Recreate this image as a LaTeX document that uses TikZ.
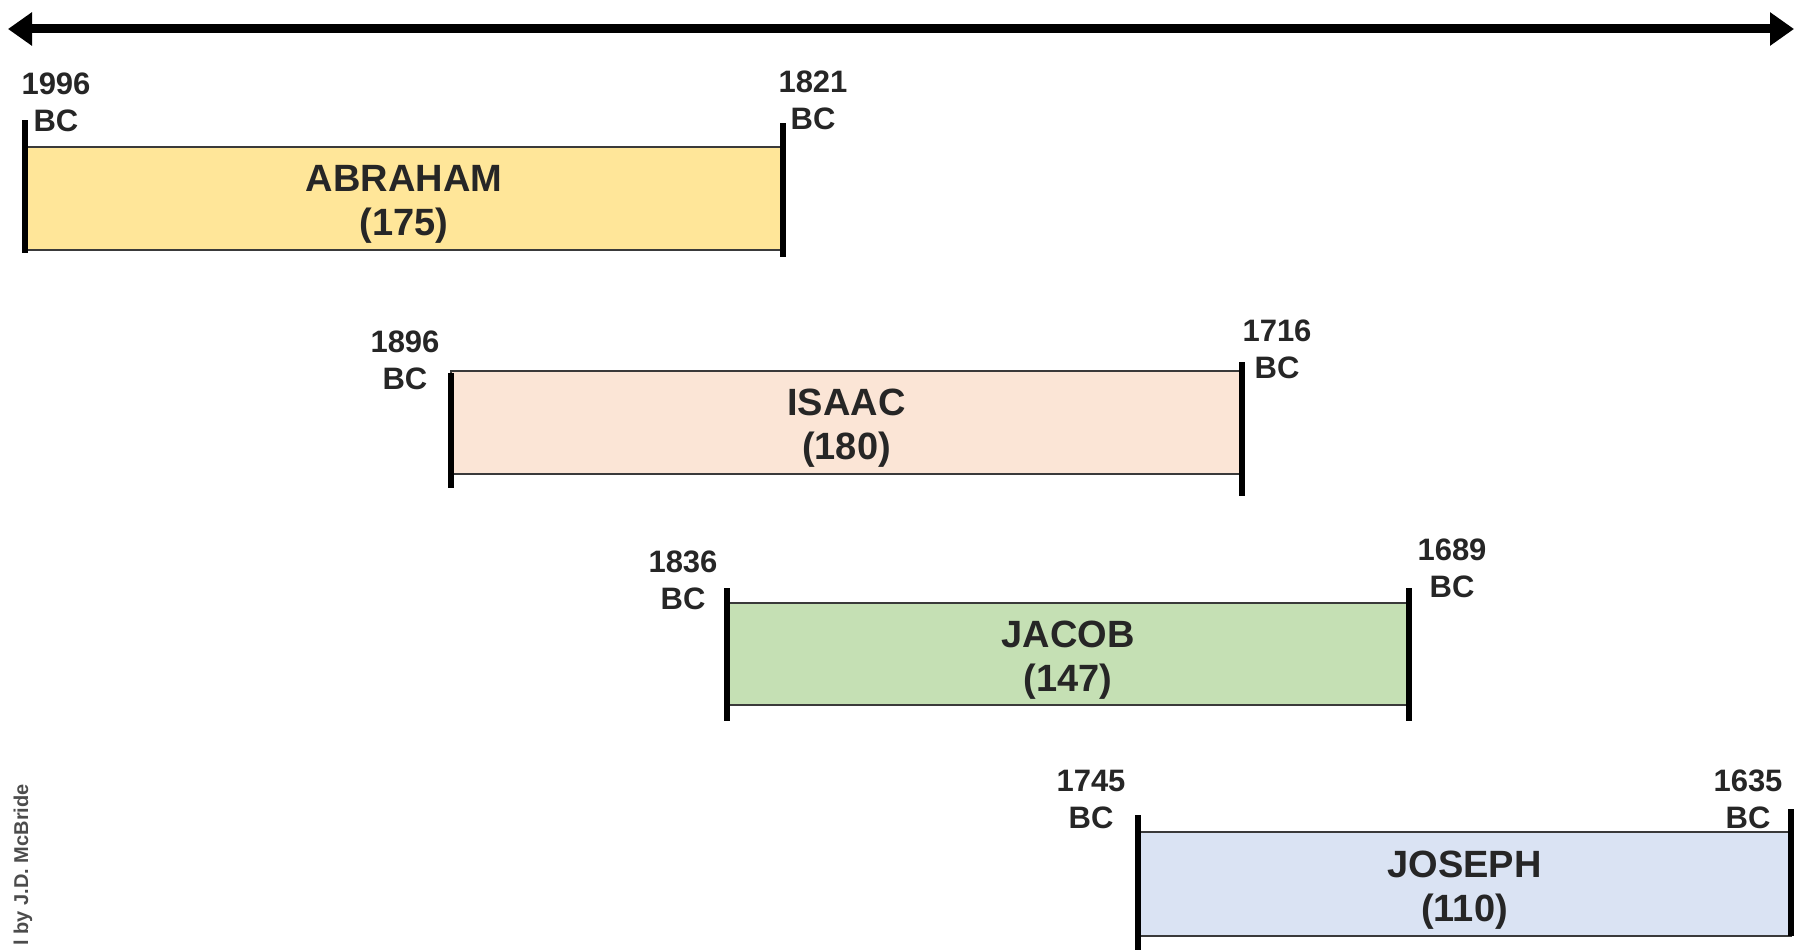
\documentclass[tikz,border=0pt]{standalone}
\usepackage{fontspec}
\setmainfont{Liberation Sans}
\usetikzlibrary{arrows.meta}
\definecolor{abrfill}{HTML}{FFE699}
\definecolor{isafill}{HTML}{FBE5D6}
\definecolor{jacfill}{HTML}{C5E0B4}
\definecolor{josfill}{HTML}{DAE3F3}
\definecolor{edgegray}{HTML}{3A3A3A}
\newcommand{\lowtxt}[1]{\raisebox{-6pt}[\height][\depth]{#1}}
\tikzset{
  lifebox/.style={draw=edgegray, line width=2.5pt, inner sep=0pt, outer sep=0pt,
    align=center, font=\fontsize{38}{44}\selectfont\bfseries, text=black!85},
  datelbl/.style={align=center, inner sep=0pt, font=\fontsize{31}{37}\selectfont\bfseries, text=black!85},
  endbar/.style={line width=6pt, black},
  timeline/.style={line width=9pt, black, {Triangle[width=32pt,length=24pt]}-{Triangle[width=32pt,length=24pt]}}
}
\begin{document}
\begin{tikzpicture}[x=1pt,y=-1pt]
\useasboundingbox (0,0) rectangle (1800,950);
% timeline arrow
\coordinate (tl) at (8,29);
\coordinate (tr) at (1794,29);
\draw[timeline] (tl) -- (tr);

% ABRAHAM
\node[lifebox, fill=abrfill, minimum width=758pt, minimum height=103pt] (abr) at (404,198.5) {\lowtxt{ABRAHAM}\\\lowtxt{(175)}};
\draw[endbar] ([yshift=27pt]abr.north west) -- ([yshift=-3pt]abr.south west);
\draw[endbar] ([yshift=24pt]abr.north east) -- ([yshift=-7pt]abr.south east);
\node[datelbl] (abrs) at (56,102) {1996\\BC};
\node[datelbl] (abre) at (813,100) {1821\\BC};

% ISAAC
\node[lifebox, fill=isafill, minimum width=791pt, minimum height=103pt] (isa) at (846.5,422.5) {\lowtxt{ISAAC}\\\lowtxt{(180)}};
\draw[endbar] ([yshift=-2pt]isa.north west) -- ([yshift=-14pt]isa.south west);
\draw[endbar] ([yshift=9pt]isa.north east) -- ([yshift=-22pt]isa.south east);
\node[datelbl] (isas) at (405,360) {1896\\BC};
\node[datelbl] (isae) at (1277,349) {1716\\BC};

% JACOB
\node[lifebox, fill=jacfill, minimum width=682pt, minimum height=102pt] (jac) at (1068,654) {\lowtxt{JACOB}\\\lowtxt{(147)}};
\draw[endbar] ([yshift=15pt]jac.north west) -- ([yshift=-16pt]jac.south west);
\draw[endbar] ([yshift=15pt]jac.north east) -- ([yshift=-16pt]jac.south east);
\node[datelbl] (jacs) at (683,580) {1836\\BC};
\node[datelbl] (jace) at (1452,568) {1689\\BC};

% JOSEPH
\node[lifebox, fill=josfill, minimum width=653pt, minimum height=104pt] (jos) at (1464.5,884) {\lowtxt{JOSEPH}\\\lowtxt{(110)}};
\draw[endbar] ([yshift=17pt]jos.north west) -- ([yshift=-16pt]jos.south west);
\draw[endbar] ([yshift=23pt]jos.north east) -- (jos.south east);
\node[datelbl] (joss) at (1091,799) {1745\\BC};
\node[datelbl] (jose) at (1748,799) {1635\\BC};

% credit
\node[rotate=90, anchor=east, inner sep=0pt, text=black!70, font=\fontsize{20}{24}\selectfont\bfseries] (credit) at (23,784) {l by J.D. McBride};
\end{tikzpicture}
\end{document}
